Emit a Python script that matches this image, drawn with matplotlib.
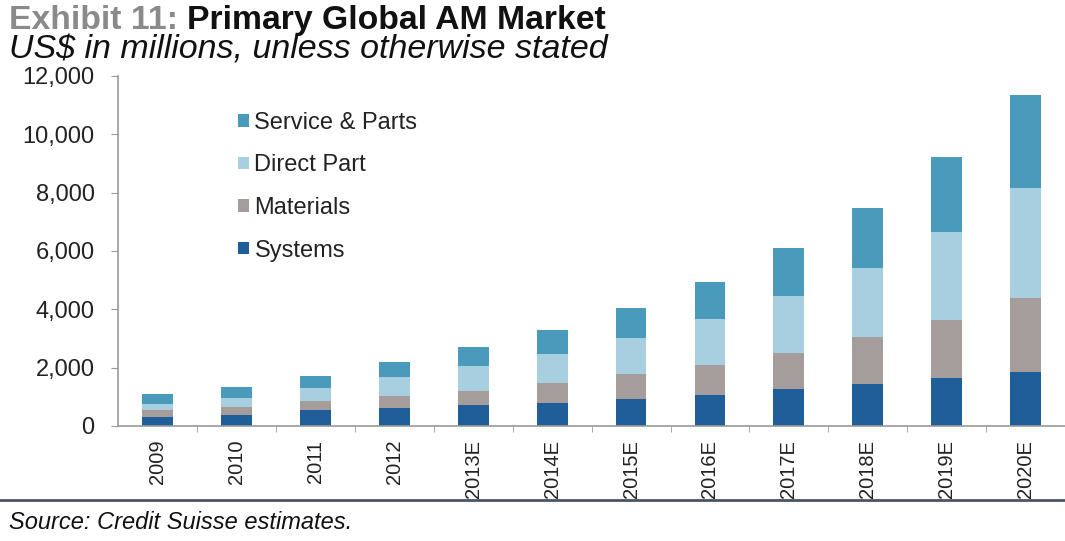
import numpy as np
import matplotlib.pyplot as plt

# AM market split by segment, US$ millions
years = ["2009", "2010", "2011", "2012", "2013E", "2014E", "2015E",
         "2016E", "2017E", "2018E", "2019E", "2020E"]
systems = [320, 390, 540, 610, 720, 800, 930, 1070, 1260, 1430, 1650, 1860]
materials = [230, 270, 310, 430, 490, 660, 850, 1020, 1230, 1610, 1980, 2540]
direct_part = [200, 300, 450, 630, 840, 1000, 1240, 1570, 1970, 2390, 3030, 3750]
service_parts = [340, 370, 410, 540, 660, 830, 1030, 1290, 1630, 2060, 2550, 3200]

series = [("Systems", systems, "#1f5e98"),
          ("Materials", materials, "#a59d9b"),
          ("Direct Part", direct_part, "#a8cfdf"),
          ("Service & Parts", service_parts, "#4a9abb")]

plt.rcParams['font.family'] = ['Liberation Sans', 'DejaVu Sans']

fig = plt.figure(figsize=(10.65, 5.41), dpi=100)
ax = fig.add_axes([0.111, 0.2126, 0.889, 0.647])

x = np.arange(len(years))
bottom = np.zeros(len(years))
handles = []
for name, vals, col in series:
    b = ax.bar(x, vals, 0.39, bottom=bottom, color=col, label=name)
    bottom += np.array(vals)
    handles.append(b)

ax.set_xlim(-0.5, len(years) - 0.5)
ax.set_ylim(0, 12000)
ax.set_yticks(range(0, 12001, 2000))
ax.set_yticklabels([f"{v:,}" for v in range(0, 12001, 2000)])
ax.set_xticks(x)
ax.set_xticklabels(years, rotation=90)
ax.set_xticks(x[:-1] + 0.5, minor=True)

for s in ["top", "right"]:
    ax.spines[s].set_visible(False)
for s in ["left", "bottom"]:
    ax.spines[s].set_color("#9a9a9a")
    ax.spines[s].set_linewidth(1.2)

ax.tick_params(axis="y", length=5, color="#9a9a9a", labelsize=17,
               labelcolor="#222222", pad=12)
ax.tick_params(axis="x", which="major", length=0, labelsize=14.5,
               labelcolor="#222222", pad=10)
ax.tick_params(axis="x", which="minor", length=4, color="#9a9a9a")

leg = ax.legend(handles[::-1], [h.get_label() for h in handles[::-1]],
                loc="upper left", bbox_to_anchor=(0.104, 0.958), frameon=False,
                fontsize=17, handlelength=0.45, handleheight=0.45,
                handletextpad=0.25, labelspacing=0.87)
for t in leg.get_texts():
    t.set_color("#222222")

# heading
t1 = fig.text(0.008, 0.962, "Exhibit 11: ", fontsize=24.3, fontweight="bold",
              color="#8a8a8a", va="center")
fig.canvas.draw()
bb = t1.get_window_extent()
fig.text(bb.x1 / fig.bbox.width, 0.962, "Primary Global AM Market",
         fontsize=24.3, fontweight="bold", color="#111111", va="center")
fig.text(0.008, 0.908, "US$ in millions, unless otherwise stated",
         fontsize=24.5, style="italic", color="#111111", va="center")

# rule under the chart and source note
fig.add_artist(plt.Line2D([0, 1], [0.076, 0.076], color="#4a5560", lw=2))
fig.text(0.008, 0.035, "Source: Credit Suisse estimates.", fontsize=17,
         style="italic", color="#111111", va="center")

fig.savefig("out.png", dpi=100)
